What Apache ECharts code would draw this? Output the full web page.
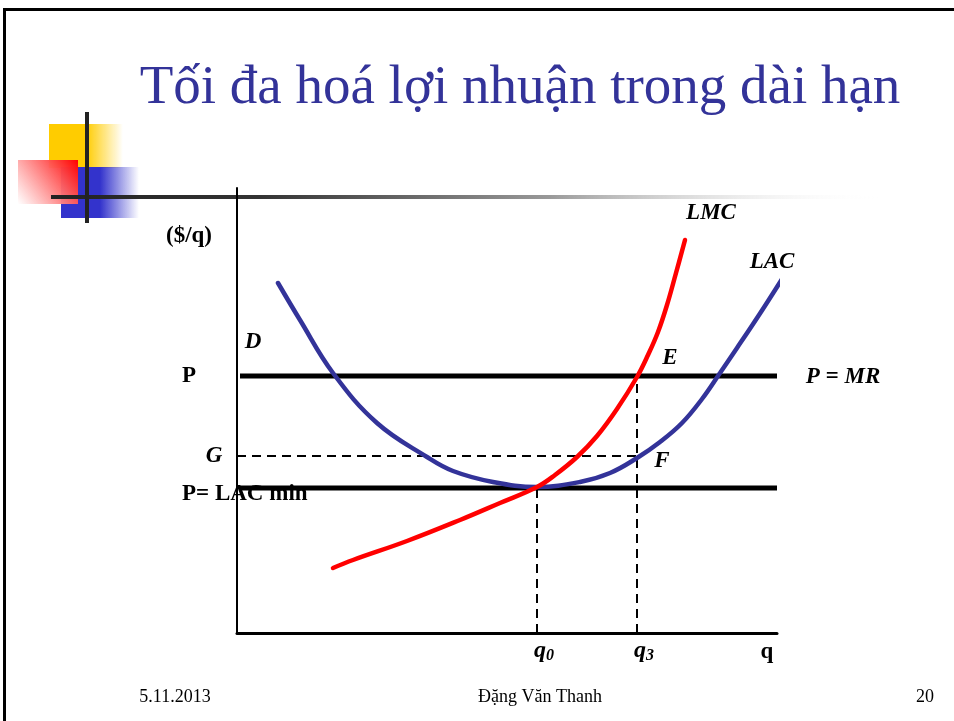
<!DOCTYPE html>
<html>
<head>
<meta charset="utf-8">
<script src="https://cdn.jsdelivr.net/npm/echarts@6/dist/echarts.min.js"></script>
<style>
html, body { margin: 0; padding: 0; background: #fff; }
#main { width: 954px; height: 721px; }
</style>
</head>
<body>
<div id="main"></div>
<script>
var chart = echarts.init(document.getElementById('main'));

// long-run average cost and marginal cost curves [q, $/q]
var lacPoints = [[41,350],[63,313],[96,260],[140,210],[190,176],[216,162],[256,151],[300,146],
    [343,151],[373,160],[400,175],[423,191],[445,210],[465,234],[483,260],[500,285],[522,318],[545,354]];
var lmcPoints = [[96,65],[116,73],[170,92],[223,113],[263,130],[300,146],[318,158],[340,176],
    [360,197],[380,224],[400,256],[411,278],[421,301],[430,328],[439,360],[448,393]];

// price levels and quantities
var priceP = 257;
var priceG = 177;
var priceMin = 145;
var q0 = 300;
var q3 = 400;
var qMax = 540;
var yMax = 445;

// annotation texts [text, q, $/q, align, italic]
var labels = [
    ['($/q)', -48, 397, 'center', false],
    ['P', -55, priceP, 'left', false],
    ['G', -23, priceG, 'center', true],
    ['P= LAC min', -55, priceMin - 6, 'left', false],
    ['D', 16, 291, 'center', true],
    ['E', 433, 275, 'center', true],
    ['F', 425, 172, 'center', true],
    ['LMC', 474, 420, 'center', true],
    ['LAC', 535, 371, 'center', true],
    ['P = MR', 606, priceP - 1, 'center', true],
    ['q', 530, -19, 'center', false]
];
var qLabels = [['q', '0', q0], ['q', '3', q3]];

var serif = '"Liberation Serif", "DejaVu Serif", serif';

function hline(y, x0, x1, width, type) {
    return {
        type: 'line', data: [[x0, y], [x1, y]], symbol: 'none', silent: true, clip: false,
        lineStyle: { color: '#000', width: width, type: type }
    };
}
function vline(x, y0, y1) {
    return {
        type: 'line', data: [[x, y0], [x, y1]], symbol: 'none', silent: true, clip: false,
        lineStyle: { color: '#000', width: 2, type: [9, 6] }
    };
}

var option = {
    animation: false,
    grid: { left: 237, top: 188, width: 540, height: 445 },
    xAxis: {
        type: 'value', min: 0, max: qMax,
        axisLine: { lineStyle: { color: '#000', width: 3 } },
        axisTick: { show: false }, axisLabel: { show: false }, splitLine: { show: false }
    },
    yAxis: {
        type: 'value', min: 0, max: yMax,
        axisLine: { lineStyle: { color: '#000', width: 2 } },
        axisTick: { show: false }, axisLabel: { show: false }, splitLine: { show: false }
    },
    series: [
        hline(priceG, 0, q3, 2, [9, 6]),
        vline(q0, 0, priceMin),
        vline(q3, 0, priceP),
        hline(priceP, 3, qMax, 5, 'solid'),
        hline(priceMin, 3, qMax, 5, 'solid'),
        {
            name: 'LAC', type: 'line', data: lacPoints, smooth: 0.4, symbol: 'none', clip: false,
            lineStyle: { color: '#333399', width: 4.5, cap: 'round' }
        },
        {
            name: 'LMC', type: 'line', data: lmcPoints, smooth: 0.4, symbol: 'none', clip: false,
            lineStyle: { color: '#ff0000', width: 4.5, cap: 'round' }
        }
    ]
};
chart.setOption(option);

var g = [];
// slide frame
g.push({ type: 'rect', shape: { x: 3, y: 8, width: 3, height: 721 }, style: { fill: '#000' } });
g.push({ type: 'rect', shape: { x: 3, y: 8, width: 951, height: 3 }, style: { fill: '#000' } });

// decoration squares
g.push({ type: 'rect', shape: { x: 49, y: 124, width: 74, height: 44 },
    style: { fill: new echarts.graphic.LinearGradient(0, 0, 1, 0, [
        { offset: 0, color: '#ffcc00' }, { offset: 0.5, color: '#ffcc00' }, { offset: 1, color: 'rgba(255,204,0,0)' }]) } });
g.push({ type: 'rect', shape: { x: 61, y: 167, width: 78, height: 51 },
    style: { fill: new echarts.graphic.LinearGradient(0, 0, 1, 0, [
        { offset: 0, color: '#3333cc' }, { offset: 0.5, color: '#3333cc' }, { offset: 1, color: 'rgba(51,51,204,0)' }]) } });
g.push({ type: 'rect', shape: { x: 18, y: 160, width: 60, height: 44 },
    style: { fill: new echarts.graphic.LinearGradient(1, 0, 0, 1, [
        { offset: 0, color: '#ff0000' }, { offset: 1, color: 'rgba(255,255,255,0.9)' }]) } });
g.push({ type: 'rect', shape: { x: 51, y: 195, width: 830, height: 4 },
    style: { fill: new echarts.graphic.LinearGradient(0, 0, 1, 0, [
        { offset: 0, color: '#222' }, { offset: 0.25, color: '#333' }, { offset: 0.6, color: '#999' }, { offset: 1, color: 'rgba(255,255,255,0)' }]) } });
g.push({ type: 'rect', shape: { x: 85, y: 112, width: 4, height: 111 }, style: { fill: '#222' } });

// title
g.push({ type: 'text', x: 520, y: 89, style: {
    text: 'Tối đa hoá lợi nhuận trong dài hạn', font: '55px ' + serif, fill: '#333399',
    align: 'center', verticalAlign: 'middle' } });

// footer
g.push({ type: 'text', x: 175, y: 697, style: { text: '5.11.2013', font: '18px ' + serif, fill: '#000', align: 'center', verticalAlign: 'middle' } });
g.push({ type: 'text', x: 540, y: 697, style: { text: 'Đặng Văn Thanh', font: '18px ' + serif, fill: '#000', align: 'center', verticalAlign: 'middle' } });
g.push({ type: 'text', x: 925, y: 697, style: { text: '20', font: '18px ' + serif, fill: '#000', align: 'center', verticalAlign: 'middle' } });

// chart annotations, placed through the axes
labels.forEach(function (l) {
    var p = chart.convertToPixel({ gridIndex: 0 }, [l[1], l[2]]);
    g.push({ type: 'text', x: p[0], y: p[1], z: 10, style: {
        text: l[0], font: (l[4] ? 'italic ' : '') + 'bold 23px ' + serif, fill: '#000',
        align: l[3], verticalAlign: 'middle' } });
});
qLabels.forEach(function (l) {
    var p = chart.convertToPixel({ gridIndex: 0 }, [l[2], 0]);
    g.push({ type: 'text', x: p[0] - 3, y: p[1] + 18, z: 10, style: {
        text: '{a|' + l[0] + '}{b|' + l[1] + '}', fill: '#000', align: 'left', verticalAlign: 'middle',
        rich: {
            a: { font: 'italic bold 24px ' + serif, fill: '#000' },
            b: { font: 'italic bold 16px ' + serif, fill: '#000', padding: [9, 0, 0, 0] }
        } } });
});

chart.setOption({ graphic: g });
</script>
</body>
</html>
